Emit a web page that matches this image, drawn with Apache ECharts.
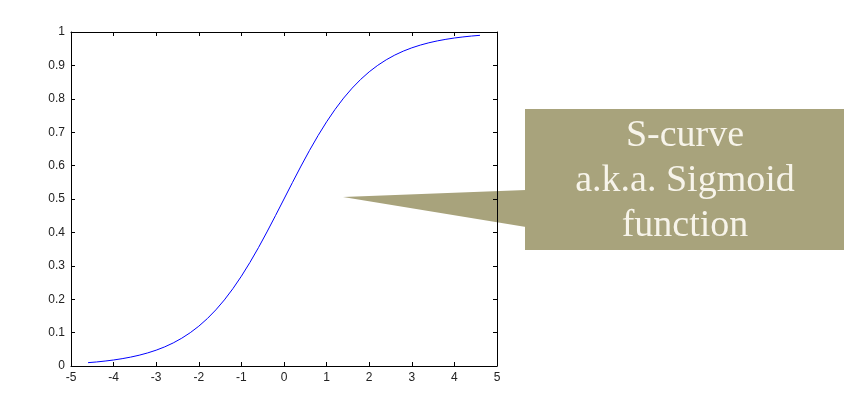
<!DOCTYPE html>
<html><head><meta charset="utf-8">
<script src="https://cdn.jsdelivr.net/npm/echarts@6/dist/echarts.min.js"></script>
<style>html,body{margin:0;padding:0;background:#fff}#c{width:844px;height:412px}</style>
</head><body><div id="c"></div>
<script>
const xValues = [-4.6,-4.4,-4.2,-4.0,-3.8,-3.6,-3.4,-3.2,-3.0,-2.8,-2.6,-2.4,-2.2,-2.0,-1.8,-1.6,-1.4,-1.2,-1.0,-0.8,-0.6,-0.4,-0.2,0,0.2,0.4,0.6,0.8,1.0,1.2,1.4,1.6,1.8,2.0,2.2,2.4,2.6,2.8,3.0,3.2,3.4,3.6,3.8,4.0,4.2,4.4,4.6];
const yValues = [0.0100,0.0121,0.0148,0.0180,0.0219,0.0266,0.0323,0.0392,0.0474,0.0573,0.0691,0.0832,0.0998,0.1192,0.1419,0.1680,0.1978,0.2315,0.2689,0.3100,0.3543,0.4013,0.4502,0.5,0.5498,0.5987,0.6457,0.6900,0.7311,0.7685,0.8022,0.8320,0.8581,0.8808,0.9002,0.9168,0.9309,0.9427,0.9526,0.9608,0.9677,0.9734,0.9781,0.9820,0.9852,0.9879,0.9900];
const calloutLines = ["S-curve", "a.k.a. Sigmoid", "function"];

const chart = echarts.init(document.getElementById('c'));
const lbl = {color:'#222', fontFamily:'Liberation Sans, Arial, sans-serif', fontSize:12};
const axLine = {lineStyle:{color:'#000', width:1}};
const tick = {inside:true, length:4, lineStyle:{color:'#000'}};
chart.setOption({
  animation:false,
  grid:{left:71, right:347, top:32, bottom:46},
  xAxis:[
    {type:'value', min:-5, max:5, interval:1, position:'bottom', axisLine:Object.assign({onZero:false},axLine), axisTick:tick, splitLine:{show:false}, axisLabel:Object.assign({margin:6},lbl)},
    {type:'value', min:-5, max:5, interval:1, position:'top', axisLine:Object.assign({onZero:false},axLine), axisTick:tick, splitLine:{show:false}, axisLabel:{show:false}}
  ],
  yAxis:[
    {type:'value', min:0, max:1, interval:0.1, position:'left', axisLine:Object.assign({show:true,onZero:false},axLine), axisTick:tick, splitLine:{show:false}, axisLabel:Object.assign({margin:6, formatter:v=>String(Math.round(v*10)/10)},lbl)},
    {type:'value', min:0, max:1, interval:0.1, position:'right', axisLine:Object.assign({show:true,onZero:false},axLine), axisTick:tick, splitLine:{show:false}, axisLabel:{show:false}}
  ],
  series:[{
    type:'line', xAxisIndex:0, yAxisIndex:0, showSymbol:false, symbol:'none',
    lineStyle:{color:'#0000ff', width:1},
    data: xValues.map((x,i)=>[x,yValues[i]])
  }],
  graphic:[
    {type:'polygon', shape:{points:[[343,197],[526,190],[526,227]]}, style:{fill:'#a8a37c'}},
    {type:'rect', shape:{x:525, y:109, width:320, height:141}, style:{fill:'#a8a37c'}},
    {type:'text', x:685, y:181, style:{text:calloutLines.join('\n'), fill:'#f7f4ea', font:'38px "Liberation Serif", "DejaVu Serif", serif', lineHeight:45, align:'center', verticalAlign:'middle'}}
  ]
});
</script></body></html>
